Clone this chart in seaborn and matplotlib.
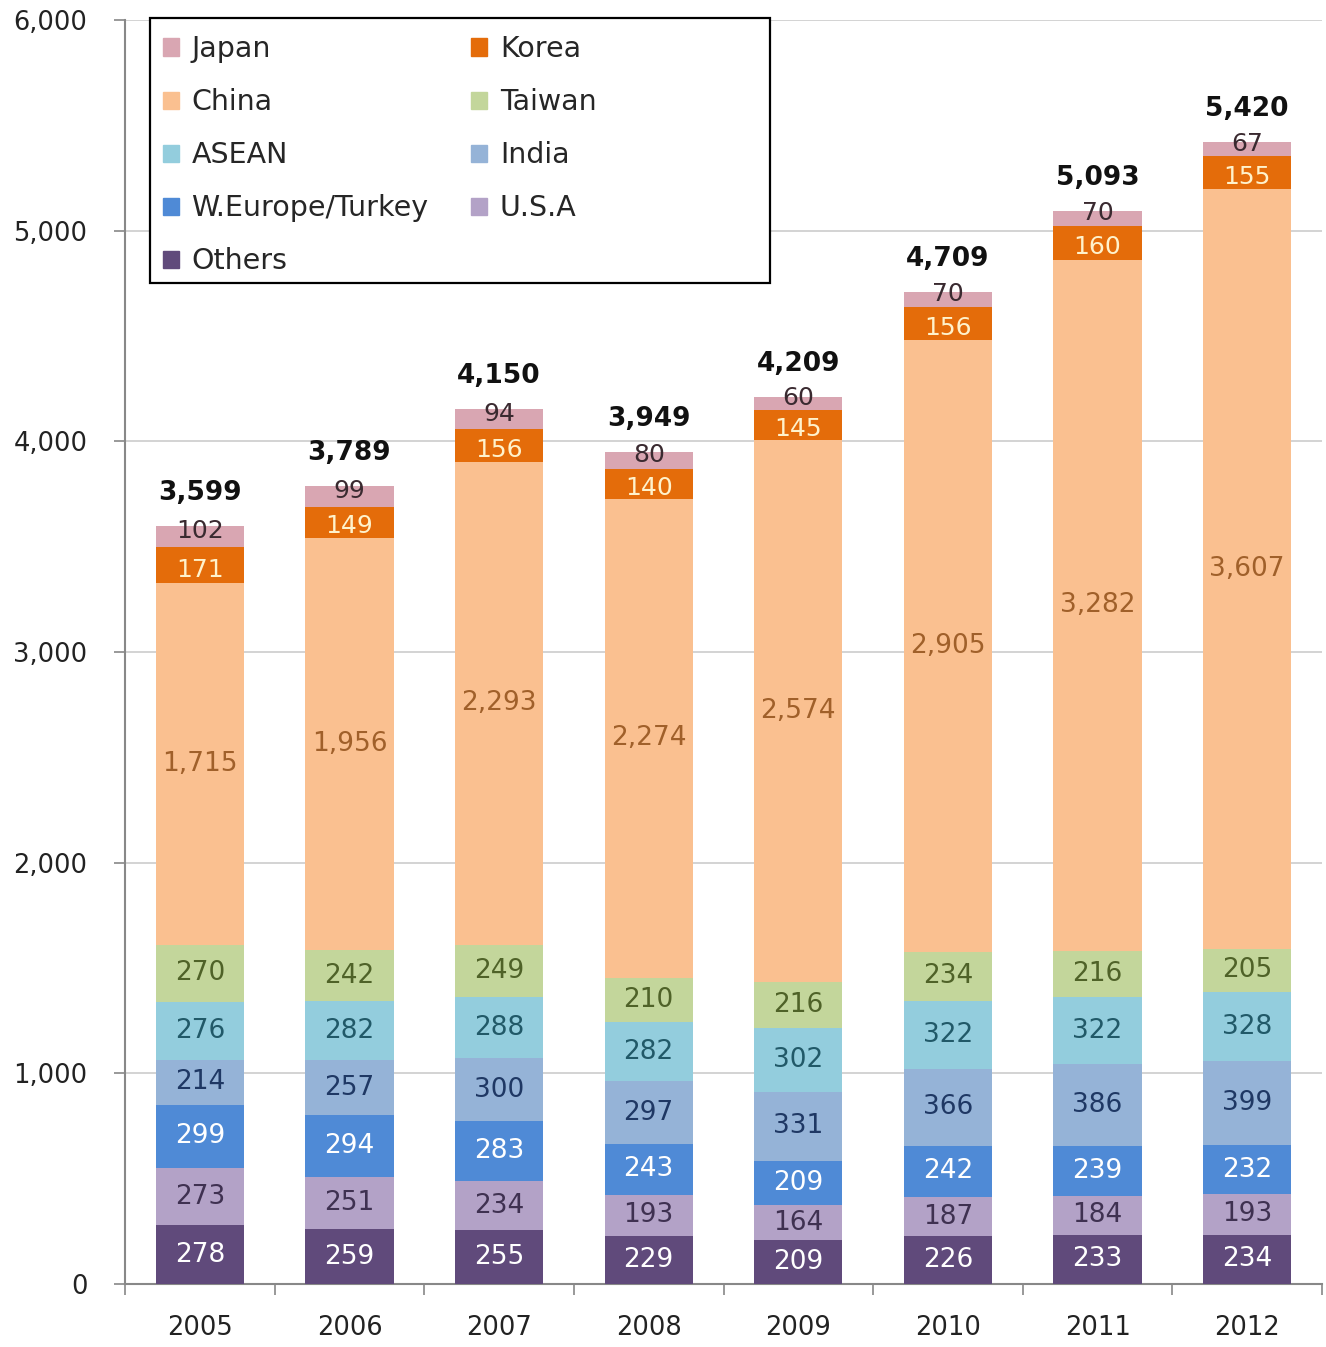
import matplotlib
matplotlib.use("Agg")
import matplotlib.pyplot as plt
import matplotlib.patches as mpatches
from matplotlib.ticker import FuncFormatter, FixedLocator
import seaborn as sns
import numpy as np
import pandas as pd

years = ["2005", "2006", "2007", "2008", "2009", "2010", "2011", "2012"]
others = [278, 259, 255, 229, 209, 226, 233, 234]
usa = [273, 251, 234, 193, 164, 187, 184, 193]
weurope = [299, 294, 283, 243, 209, 242, 239, 232]
india = [214, 257, 300, 297, 331, 366, 386, 399]
asean = [276, 282, 288, 282, 302, 322, 322, 328]
taiwan = [270, 242, 249, 210, 216, 234, 216, 205]
china = [1715, 1956, 2293, 2274, 2574, 2905, 3282, 3607]
korea = [171, 149, 156, 140, 145, 156, 160, 155]
japan = [102, 99, 94, 80, 60, 70, 70, 67]
totals = [3599, 3789, 4150, 3949, 4209, 4709, 5093, 5420]

# bottom to top
series_names = ["Others", "U.S.A", "W.Europe/Turkey", "India", "ASEAN", "Taiwan", "China", "Korea", "Japan"]
series_vals = [others, usa, weurope, india, asean, taiwan, china, korea, japan]
colors = {
    "Japan": "#D9A6B2", "Korea": "#E46C0A", "China": "#FAC090", "Taiwan": "#C3D69B",
    "ASEAN": "#93CDDD", "India": "#95B3D7", "W.Europe/Turkey": "#4F8AD6",
    "U.S.A": "#B3A2C7", "Others": "#604A7B",
}
text_colors = {
    "Japan": "#3A2A30", "Korea": "#FFF2CC", "China": "#A0602A", "Taiwan": "#4F6228",
    "ASEAN": "#215968", "India": "#1F3864", "W.Europe/Turkey": "#FFFFFF",
    "U.S.A": "#3F3151", "Others": "#FFFFFF",
}
# small vertical nudges (data units) for the thin top segments
label_nudge = {"Japan": 25, "Korea": -20}
label_size = {"Japan": 18, "Korea": 18}

sns.set_theme(style="white")
plt.rcParams['font.family'] = ['DejaVu Sans']

fig = plt.figure(figsize=(13.26, 13.47), dpi=100)
ax = fig.add_axes([0.0943, 0.0468, 0.9027, 0.9384])

cum = np.cumsum(np.array(series_vals), axis=0)
bar_w = 0.59
# draw from top layer down so lower layers overlay
for i in range(len(series_names) - 1, -1, -1):
    df = pd.DataFrame({"year": years, "val": cum[i]})
    sns.barplot(data=df, x="year", y="val", color=colors[series_names[i]],
                width=bar_w, saturation=1, linewidth=0, ax=ax, zorder=3)

# segment labels
for i, name in enumerate(series_names):
    for j in range(len(years)):
        v = series_vals[i][j]
        bottom = cum[i][j] - v
        y = bottom + v / 2 + label_nudge.get(name, 0)
        ax.text(j, y, f"{v:,}", ha="center", va="center",
                fontsize=label_size.get(name, 19),
                color=text_colors[name], zorder=5)

# totals
for j, t in enumerate(totals):
    ax.text(j, cum[-1][j] + 95, f"{t:,}", ha="center", va="bottom", fontsize=19,
            fontweight="bold", color="#111111", zorder=5)

ax.set_xlim(-0.5, len(years) - 0.5)
ax.set_ylim(0, 6000)
ax.set_yticks(range(0, 6001, 1000))
ax.yaxis.set_major_formatter(FuncFormatter(lambda v, p: f"{int(v):,}"))
ax.set_xlabel("")
ax.set_ylabel("")
ax.grid(axis="y", color="#CCCCCC", linewidth=1.2, zorder=0)
ax.set_axisbelow(True)
for s in ["top", "right"]:
    ax.spines[s].set_visible(False)
for s in ["left", "bottom"]:
    ax.spines[s].set_color("#888888")
    ax.spines[s].set_linewidth(1.5)
ax.tick_params(axis="y", which="major", length=8, width=1.2, color="#888888",
               labelsize=18.5, labelcolor="#222222", left=True, pad=19)
ax.tick_params(axis="x", which="major", length=0, labelsize=18.5, labelcolor="#222222", pad=22)
ax.xaxis.set_minor_locator(FixedLocator(np.arange(-0.5, len(years), 1.0)))
ax.tick_params(axis="x", which="minor", length=8, width=1.2, color="#888888", bottom=True)

# legend box (white, covers gridline)
box = mpatches.Rectangle((0.0209, 0.7919), 0.5179, 0.2097, transform=ax.transAxes,
                         facecolor="white", edgecolor="black", linewidth=1.6,
                         zorder=8, clip_on=False)
ax.add_patch(box)

legend_order = ["Japan", "China", "ASEAN", "W.Europe/Turkey", "Others",
                "Korea", "Taiwan", "India", "U.S.A"]
handles = [mpatches.Patch(color=colors[n], label=n) for n in legend_order]
leg = ax.legend(handles=handles, ncol=2, loc="upper left", bbox_to_anchor=(0.0317, 0.988),
                fontsize=20.5, frameon=False,
                handlelength=0.55, handleheight=0.55, handletextpad=0.45,
                labelspacing=0.88, columnspacing=1.5, borderpad=0, borderaxespad=0)
leg.set_zorder(10)

fig.savefig("out.png", dpi=100)
